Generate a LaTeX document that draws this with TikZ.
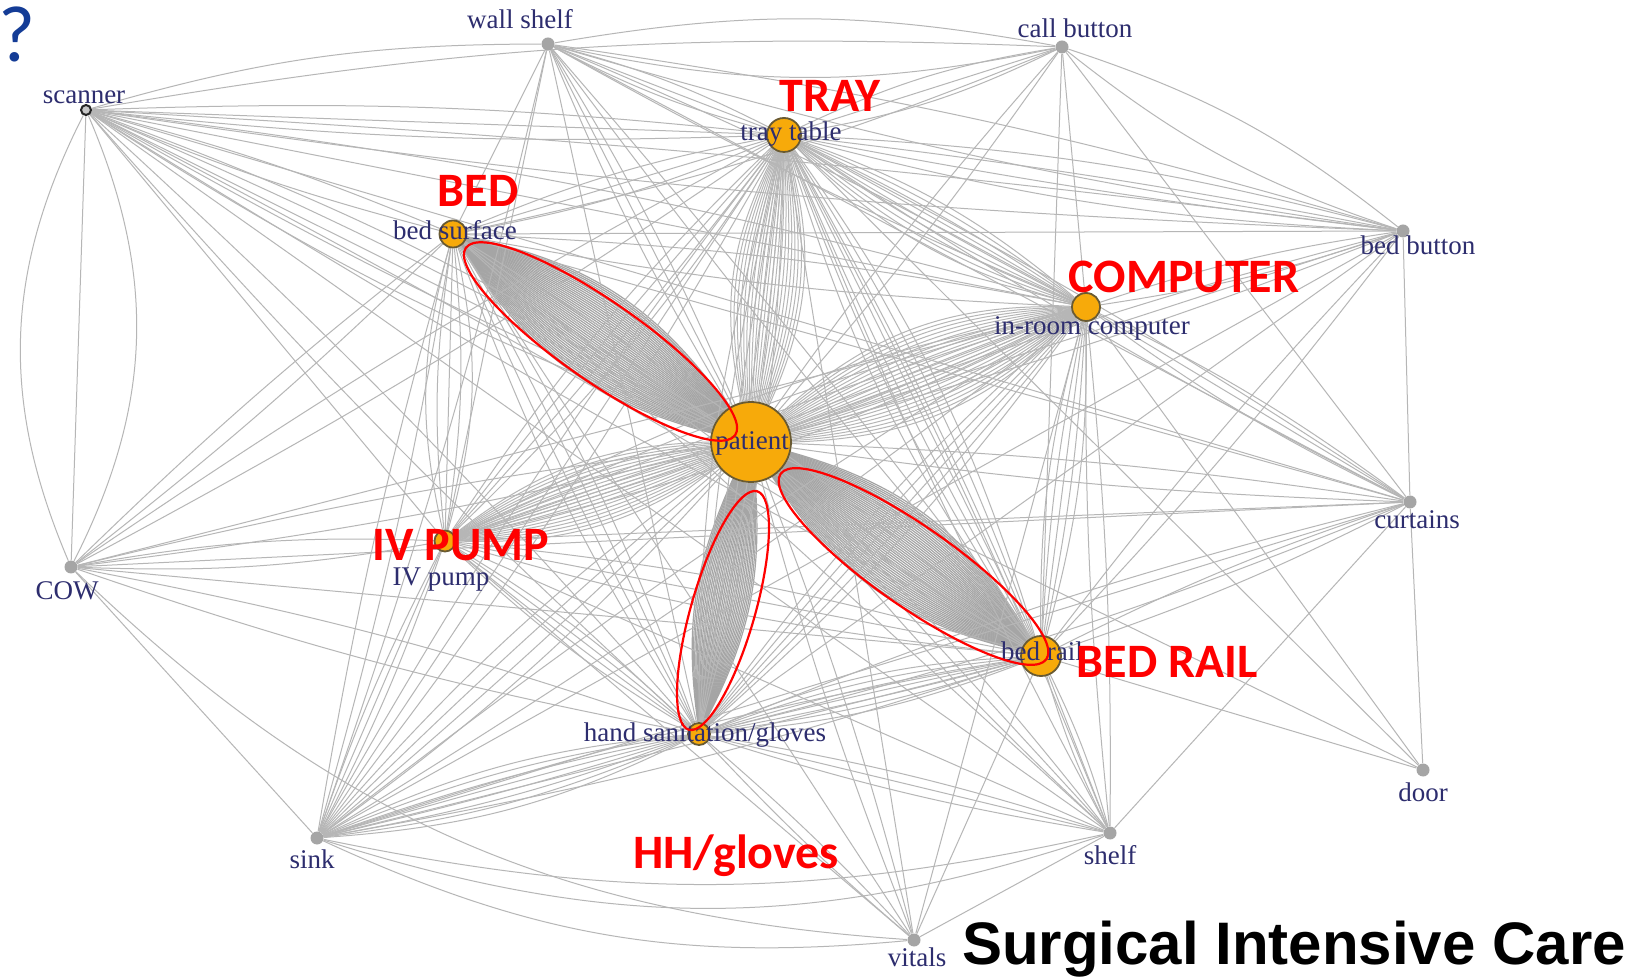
\documentclass[tikz,border=0pt]{standalone}
\usepackage{fontspec}
\setmainfont{Liberation Serif}
\newfontfamily\calfont{Carlito}
\newfontfamily\arialfont{Liberation Sans}
\usetikzlibrary{backgrounds}
\definecolor{edgegray}{RGB}{182,182,182}
\definecolor{bundgray}{RGB}{165,165,165}
\definecolor{norange}{RGB}{247,170,10}
\definecolor{nrim}{RGB}{105,90,50}
\definecolor{lblue}{RGB}{45,45,110}
\definecolor{qblue}{RGB}{20,60,150}
\definecolor{dotgray}{RGB}{165,165,165}
\newcommand\EE[3]{\foreach \k in {#3}{\draw[edge] (#1) to[bend left=\k] (#2);}}
\newcommand\BB[3]{\foreach \k in {#3}{\draw[bund] (#1) to[bend left=\k] (#2);}}
\tikzset{
 edge/.style={draw=edgegray, line width=0.5pt},
 bund/.style={draw=bundgray, line width=0.6pt},
 onode/.style={circle, fill=norange, draw=nrim, line width=0.9pt, inner sep=0pt, minimum size=#1},
 gnode/.style={circle, fill=dotgray, inner sep=0pt, minimum size=6.5pt},
 lbl/.style={text=lblue, font=\fontsize{13.5}{14}\selectfont, inner sep=0pt, anchor=base},
 redlbl/.style={text=red, font=\calfont\bfseries\fontsize{24}{26}\selectfont, inner sep=0pt, anchor=base},
 redell/.style={draw=red, line width=1.1pt},
}
\begin{document}
\begin{tikzpicture}[x=0.5pt,y=-0.5pt]
\useasboundingbox (0,0) rectangle (1632,977);
% nodes
\node[circle, fill=gray!45, draw=black!85, line width=1pt, inner sep=0pt, minimum size=5pt] (SC) at (86,110) {};
\node[gnode] (WS) at (548,44) {};
\node[gnode] (CB) at (1062,47) {};
\node[onode=17pt] (TT) at (784,135) {};
\node[onode=13.5pt] (BS) at (453,234) {};
\node[gnode] (BB) at (1403,231) {};
\node[onode=14pt] (IC) at (1086,307) {};
\node[onode=40pt] (PA) at (751,442) {};
\node[gnode] (CU) at (1410,502) {};
\node[gnode] (CO) at (71,567) {};
\node[onode=10.5pt] (IV) at (445,541) {};
\node[onode=20pt] (BR) at (1041,656) {};
\node[onode=11pt] (HS) at (699,734) {};
\node[gnode] (DO) at (1423,770) {};
\node[gnode] (SI) at (317,838) {};
\node[gnode] (SH) at (1110,833) {};
\node[gnode] (VI) at (914,940) {};

\begin{scope}[on background layer]
\fill[white] (0,0) rectangle (1632,977);
% heavy bundles
\BB{PA}{BS}{-22,-21,...,22}
\BB{PA}{BR}{-22,-21,...,22}
\BB{PA}{HS}{-16,-15,...,16}
\EE{PA}{TT}{-20,-18,...,20}
\EE{PA}{IC}{-22,-20,...,22}
\EE{PA}{IV}{-18,-16,...,18}
% scanner
\EE{SC}{CO}{-25,0,25}
\EE{SC}{WS}{8}
\EE{SC}{CB}{6}
\EE{SC}{TT}{-4,0,4}
\EE{SC}{BB}{-3,2}
\EE{SC}{IC}{0,4}
\EE{SC}{CU}{0}
\EE{SC}{PA}{-6,-3,0,3,6}
\EE{SC}{BS}{-4,4}
\EE{SC}{IV}{0}
\EE{SC}{HS}{-3,3}
\EE{SC}{BR}{-2,2}
\EE{SC}{SH}{0}
% wall shelf
\EE{WS}{CB}{-12,10}
\EE{WS}{TT}{-6,0,6}
\EE{WS}{BS}{0}
\EE{WS}{BB}{-4,4}
\EE{WS}{IC}{-3,3}
\EE{WS}{PA}{-4,0,4}
\EE{WS}{BR}{-2,2}
\EE{WS}{HS}{0}
\EE{WS}{IV}{0}
\EE{WS}{CU}{0}
\EE{WS}{SI}{3}
% call button
\EE{CB}{TT}{-8,0,8}
\EE{CB}{IC}{0}
\EE{CB}{BB}{-10,10}
\EE{CB}{PA}{-3,3}
\EE{CB}{BR}{0}
\EE{CB}{CU}{0}
\EE{CB}{BS}{5}
% tray table
\EE{TT}{BS}{-6,0,6}
\EE{TT}{IC}{-14,-11,-8,-5,-2,1,4,7,10}
\EE{TT}{BB}{-6,-2,2,6}
\EE{TT}{CU}{-3,3}
\EE{TT}{IV}{-6,-2,2,6}
\EE{TT}{BR}{-9,-6,-3,0,3,6,9}
\EE{TT}{HS}{-8,-5,-2,1,4,7}
\EE{TT}{SI}{-4,0,4}
\EE{TT}{SH}{-3,3}
\EE{TT}{CO}{-3,3}
\EE{TT}{VI}{0}
\EE{TT}{DO}{0}
% bed surface
\EE{BS}{IC}{-4,4}
\EE{BS}{BB}{0}
\EE{BS}{IV}{-14,-7,0,7,14}
\EE{BS}{BR}{-4,0,4}
\EE{BS}{HS}{-6,-2,2,6}
\EE{BS}{SI}{-3,3}
\EE{BS}{CO}{-3,3}
\EE{BS}{SH}{0}
\EE{BS}{CU}{0}
\EE{BS}{VI}{0}
% bed button
\EE{BB}{IC}{-5,5}
\EE{BB}{PA}{-3,3}
\EE{BB}{BR}{-3,3}
\EE{BB}{HS}{0}
\EE{BB}{IV}{0}
\EE{BB}{CU}{0}
\EE{BB}{SI}{0}
% in-room computer
\EE{IC}{BR}{-8,-4,0,4,8}
\EE{IC}{HS}{-6,-3,0,3,6}
\EE{IC}{IV}{-8,-5,-2,1,4,7}
\EE{IC}{SI}{-3,3}
\EE{IC}{CU}{-5,0,5}
\EE{IC}{SH}{-3,3}
\EE{IC}{CO}{0}
\EE{IC}{DO}{0}
\EE{IC}{VI}{0}
% patient
\EE{PA}{SI}{-6,-2,2,6}
\EE{PA}{SH}{-4,0,4}
\EE{PA}{CU}{-3,3}
\EE{PA}{CO}{-3,3}
\EE{PA}{VI}{-3,3}
\EE{PA}{DO}{0}
% curtains
\EE{CU}{BR}{-4,4}
\EE{CU}{HS}{-4,4}
\EE{CU}{DO}{0}
\EE{CU}{SI}{0}
\EE{CU}{SH}{0}
\EE{CU}{IV}{0}
\EE{CU}{CO}{0}
% COW
\EE{CO}{IV}{-6,6}
\EE{CO}{HS}{-4,4}
\EE{CO}{SI}{0}
\EE{CO}{BR}{0}
\EE{CO}{VI}{-20}
% IV pump
\EE{IV}{BR}{-5,0,5}
\EE{IV}{HS}{-6,-2,2,6}
\EE{IV}{SI}{-4,0,4}
\EE{IV}{SH}{0}
\EE{IV}{VI}{0}
% bed rail
\EE{BR}{HS}{-10,-7,-4,-1,2,5,8}
\EE{BR}{SI}{-4,0,4}
\EE{BR}{SH}{-5,0,5}
\EE{BR}{DO}{0}
\EE{BR}{VI}{0}
% hand sanitation
\EE{HS}{SI}{-10,-7,-4,-1,2,5,8,11}
\EE{HS}{SH}{-4,0,4}
\EE{HS}{VI}{-3,3}
% bottom
\EE{SI}{SH}{-12,-18}
\EE{SI}{VI}{-15}
\EE{SH}{VI}{0}
\end{scope}

% node labels
\node[lbl] (lSC) at (84,104) {scanner};
\node[lbl] (lWS) at (520,29) {wall shelf};
\node[lbl] (lCB) at (1075,38) {call button};
\node[lbl] (lTT) at (791,141) {tray table};
\node[lbl] (lBS) at (455,240) {bed surface};
\node[lbl] (lBB) at (1418,255) {bed button};
\node[lbl] (lIC) at (1092,335) {in-room computer};
\node[lbl] (lPA) at (752,450) {patient};
\node[lbl] (lCU) at (1417,529) {curtains};
\node[lbl] (lCO) at (67,600) {COW};
\node[lbl] (lIV) at (441,586) {IV pump};
\node[lbl] (lBR) at (1042,661) {bed rail};
\node[lbl] (lHS) at (705,741) {hand sanitation/gloves};
\node[lbl] (lDO) at (1423,801) {door};
\node[lbl] (lSI) at (312,868) {sink};
\node[lbl] (lSH) at (1110,864) {shelf};
\node[lbl] (lVI) at (917,966) {vitals};

% red highlights
\draw[redell, rotate around={-34.8:(600.5,341.5)}] (600.5,341.5) ellipse [x radius=82pt, y radius=20pt];
\draw[redell, rotate around={-34.9:(913.5,566.5)}] (913.5,566.5) ellipse [x radius=81pt, y radius=20pt];
\draw[redell, rotate around={74:(723,610.5)}] (723,610.5) ellipse [x radius=62pt, y radius=16pt];

\node[redlbl] (rTT) at (830,111.5) {TRAY};
\node[redlbl] (rBS) at (478,207) {BED};
\node[redlbl] (rIC) at (1184,292.5) {COMPUTER};
\node[redlbl] (rIV) at (461,561) {IV PUMP};
\node[redlbl] (rBR) at (1167,677.5) {BED RAIL};
\node[redlbl] (rHS) at (736,868) {HH/gloves};

\node[font=\calfont\fontsize{40}{40}\selectfont, text=qblue, anchor=base, inner sep=0pt] (q) at (17,62) {?};
\node[font=\arialfont\bfseries\fontsize{30}{30}\selectfont, anchor=base, inner sep=0pt] (title) at (1294,964) {Surgical Intensive Care};
\end{tikzpicture}
\end{document}
